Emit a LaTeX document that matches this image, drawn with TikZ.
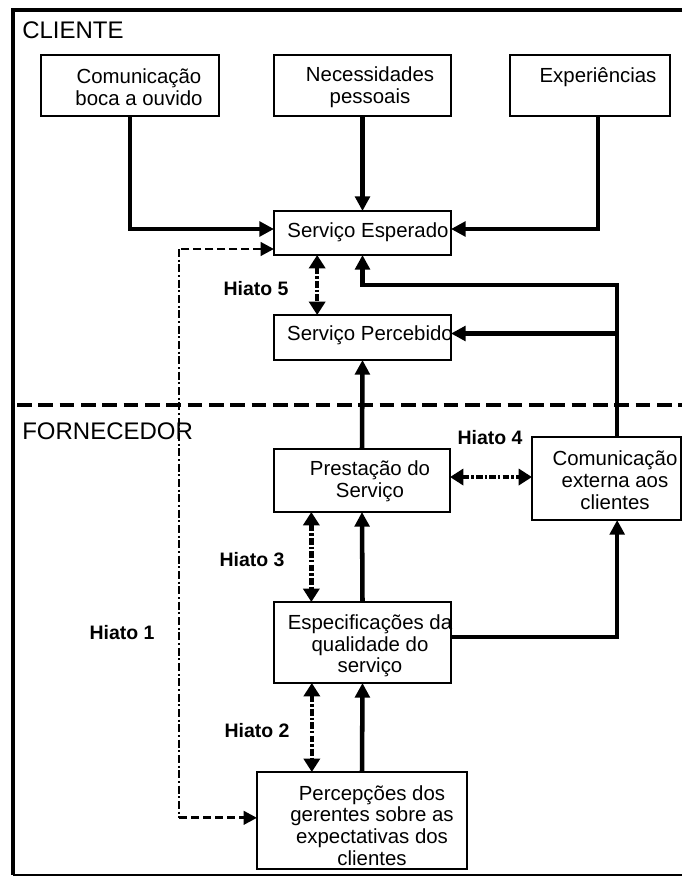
\documentclass[tikz,border=0pt]{standalone}
\usepackage{fontspec}
\setmainfont{Liberation Sans}
\usetikzlibrary{arrows.meta}

\tikzset{
  box/.style={draw, line width=1.2pt, inner sep=0pt, outer sep=0pt},
  txt/.style={align=center, inner sep=0pt, font=\fontsize{15.3}{16.3}\selectfont},
  gaplabel/.style={inner sep=0pt, font=\fontsize{14.6}{16}\selectfont\bfseries},
  zone/.style={anchor=west, inner sep=0pt, font=\fontsize{18}{20}\selectfont},
  arr/.style={line width=3.4pt, -{Triangle[length=11pt,width=11pt]}},
  gaparr/.style={line width=3.4pt, dash pattern=on 5pt off 1.6pt on 1.8pt off 1.6pt,
    {Triangle[length=10pt,width=12pt]}-{Triangle[length=10pt,width=12pt]}},
  thindash/.style={line width=2.2pt, dash pattern=on 6pt off 3pt},
  thindashdot/.style={line width=2.2pt, dash pattern=on 6pt off 2pt on 1.5pt off 2pt},
  divider/.style={line width=2.6pt, dash pattern=on 11pt off 5pt},
}

\begin{document}
\begin{tikzpicture}[x=0.75pt,y=-0.75pt]
  % page area
  \fill[white] (0,0) rectangle (682,877);
  \useasboundingbox (0,0) rectangle (682,877);

  % frame
  \draw[line width=3.2pt] (682,10) -- (13,10) -- (13,875);
  \draw[line width=1.6pt] (13,875) -- (682,875);

  % boundary between customer and provider
  \draw[divider] (17,405) -- (682,405);

  % zone titles
  \node[zone] (cliente) at (22,30) {CLIENTE};
  \node[zone] (fornecedor) at (22,431) {FORNECEDOR};

  % boxes
  \node[box, minimum width=133.5pt,  minimum height=45.75pt] (b1)    at (130,85.5)  {};
  \node[box, minimum width=132.75pt, minimum height=45.75pt] (b2)    at (362.5,85.5) {};
  \node[box, minimum width=120pt,    minimum height=45.75pt] (b3)    at (590,85.5)  {};
  \node[box, minimum width=132.75pt, minimum height=33pt]    (esp)   at (362.5,233) {};
  \node[box, minimum width=132.75pt, minimum height=33.75pt] (perc)  at (362.5,337.5) {};
  \node[box, minimum width=132pt,    minimum height=47.25pt] (prest) at (362,480.5) {};
  \node[box, minimum width=111.75pt, minimum height=62.25pt] (ext)   at (606.5,478.5) {};
  \node[box, minimum width=132.75pt, minimum height=60.75pt] (spec)  at (362.5,642.5) {};
  \node[box, minimum width=157.5pt,  minimum height=72.75pt] (ger)   at (362,820.5) {};

  % box texts
  \node[txt] (t1) at (139,87) {Comunicação\\boca a ouvido};
  \node[txt] (t2) at (370,87) {Necessidades\\pessoais};
  \node[txt] (t3) at (598,77) {Experiências};
  \node[txt] (t4) at (368,232) {Serviço Esperado};
  \node[txt] (t5) at (370,335) {Serviço Percebido};
  \node[txt] (t6) at (370,481) {Prestação do\\Serviço};
  \node[txt] (t7) at (615,480) {Comunicação\\externa aos\\clientes};
  \node[txt] (t8) at (370,646) {Especificações da\\qualidade do\\serviço};
  \node[txt] (t9) at (372,825.5) {Percepções dos\\gerentes sobre as\\expectativas dos\\clientes};

  % helper points
  \coordinate (extup) at ([xshift=8pt]ext.north);
  \coordinate (jrow) at (0,285);
  \coordinate (pin) at ([yshift=3pt]perc.east);
  \coordinate (h1a) at ([yshift=-12pt]esp.west);
  \coordinate (h1b) at ([yshift=2pt]ger.west);
  \coordinate (h1x) at (179,0);
  \coordinate (h4) at ([yshift=2.6pt]prest.east);
  \coordinate (h5) at ([xshift=-34pt]esp.south);
  \coordinate (h3) at ([xshift=-38pt]prest.south);
  \coordinate (h2) at ([xshift=-38pt]spec.south);

  % inputs to the expected service
  \draw[arr] (b1.south) |- ([yshift=3pt]esp.west);
  \draw[arr] (b2.south) -- (esp.north);
  \draw[arr] ([xshift=6pt]b3.south) |- ([yshift=3pt]esp.east);

  % external communication feeds expected and perceived service
  \draw[arr] (extup) -- (extup |- jrow) -| (esp.south);
  \draw[arr] (extup |- pin) -- (pin);

  % provider chain
  \draw[arr] (prest.north) -- (perc.south);
  \draw[arr] (spec.north) -- (prest.south);
  \draw[arr] (ger.north) -- (spec.south);
  \draw[arr] ([yshift=4pt]spec.east) -| ([xshift=8pt]ext.south);

  % gaps
  \draw[gaparr] (h5) -- (h5 |- perc.north);
  \draw[gaparr] (h4) -- (h4 -| ext.west);
  \draw[gaparr] (h3) -- (h3 |- spec.north);
  \draw[gaparr] (h2) -- (h2 |- ger.north);

  % gap 1 between expected service and management perceptions
  \draw[thindash, {Triangle[length=10pt,width=10pt]}-] (h1a) -- (h1a -| h1x);
  \draw[thindashdot] (h1a -| h1x) -- (h1b -| h1x);
  \draw[thindash, -{Triangle[length=10pt,width=10pt]}] (h1b -| h1x) -- (h1b);

  % gap labels
  \node[gaplabel] (g5) at (256,289) {Hiato 5};
  \node[gaplabel] (g4) at (490,438) {Hiato 4};
  \node[gaplabel] (g3) at (252,560) {Hiato 3};
  \node[gaplabel] (g2) at (257,731) {Hiato 2};
  \node[gaplabel] (g1) at (122,633) {Hiato 1};
\end{tikzpicture}
\end{document}
